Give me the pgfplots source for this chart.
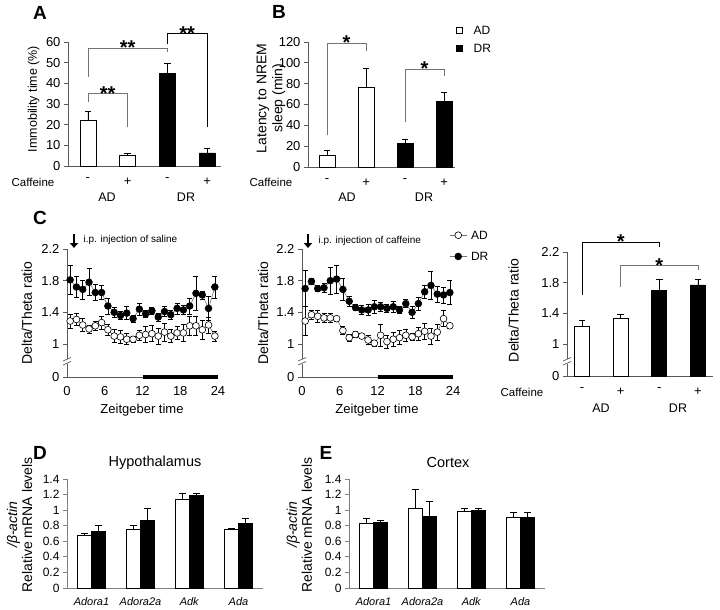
\documentclass[border=0pt]{standalone}
\usepackage{fontspec}
\setmainfont{Liberation Sans}
\usepackage{pgfplots}
\usepackage{pgfplotstable}
\pgfplotsset{compat=1.18}
\usetikzlibrary{arrows.meta}

\newcommand{\fs}[1]{\fontsize{#1}{#1}\selectfont}
\newcommand{\stars}[1]{\fontsize{20}{20}\selectfont\bfseries #1}
\tikzset{brk/.style={black!65, line width=0.7pt}}

% Delta/Theta ratio over zeitgeber time, saline day
\pgfplotstableread{
x y e
0.5 1.81 0.18
1.5 1.72 0.13
2.5 1.69 0.12
3.5 1.78 0.17
4.5 1.65 0.10
5.5 1.65 0.09
6.5 1.48 0.10
7.5 1.40 0.06
8.5 1.36 0.05
9.5 1.39 0.08
10.5 1.32 0.04
11.5 1.44 0.08
12.5 1.38 0.04
13.5 1.42 0.04
14.5 1.34 0.05
15.5 1.41 0.06
16.5 1.37 0.06
17.5 1.45 0.07
18.5 1.43 0.06
19.5 1.48 0.10
20.5 1.64 0.22
21.5 1.62 0.05
22.5 1.45 0.15
23.5 1.72 0.14
}\salDR
\pgfplotstableread{
x y e
0.5 1.29 0.09
1.5 1.31 0.08
2.5 1.24 0.08
3.5 1.19 0.05
4.5 1.23 0.06
5.5 1.27 0.08
6.5 1.18 0.07
7.5 1.10 0.08
8.5 1.09 0.08
9.5 1.06 0.07
10.5 1.06 0.04
11.5 1.11 0.06
12.5 1.12 0.10
13.5 1.13 0.10
14.5 1.10 0.10
15.5 1.15 0.11
16.5 1.10 0.08
17.5 1.14 0.08
18.5 1.14 0.11
19.5 1.23 0.12
20.5 1.23 0.12
21.5 1.18 0.12
22.5 1.24 0.10
23.5 1.10 0.06
}\salAD
% caffeine day
\pgfplotstableread{
x y e
0.5 1.70 0.23
1.5 1.79 0.04
2.5 1.70 0.04
3.5 1.71 0.06
4.5 1.80 0.17
5.5 1.82 0.18
6.5 1.69 0.14
7.5 1.54 0.06
8.5 1.46 0.04
9.5 1.43 0.06
10.5 1.43 0.07
11.5 1.47 0.08
12.5 1.47 0.06
13.5 1.45 0.05
14.5 1.47 0.07
15.5 1.43 0.04
16.5 1.51 0.05
17.5 1.40 0.08
18.5 1.51 0.08
19.5 1.66 0.08
20.5 1.74 0.18
21.5 1.63 0.10
22.5 1.62 0.10
23.5 1.65 0.15
}\cafDR
\pgfplotstableread{
x y e
0.5 1.29 0.18
1.5 1.37 0.06
2.5 1.35 0.08
3.5 1.33 0.06
4.5 1.33 0.06
5.5 1.32 0.03
6.5 1.17 0.05
7.5 1.08 0.04
8.5 1.12 0.04
9.5 1.10 0.03
10.5 1.05 0.06
11.5 1.01 0.04
12.5 1.11 0.14
13.5 1.03 0.08
14.5 1.06 0.09
15.5 1.08 0.09
16.5 1.11 0.08
17.5 1.09 0.04
18.5 1.13 0.08
19.5 1.16 0.10
20.5 1.10 0.10
21.5 1.15 0.10
22.5 1.32 0.10
23.5 1.23 0.03
}\cafAD

\pgfplotsset{
  panel/.style={
    scale only axis,
    axis lines=left,
    axis line style={black!65, line width=0.8pt, -},
    tick style={black!65, line width=0.8pt},
    tick align=outside,
    major tick length=4pt,
    /pgf/number format/assume math mode=true,
    tick label style={font=\fs{13}},
    ylabel style={font=\fontsize{14}{16}\selectfont, align=center, anchor=center},
    clip=false,
  },
  barpanel/.style={panel,
    ybar,
    xtick={0,1,2,3}, xticklabels={-,+,-,+},
    x tick style={draw=none},
    xticklabel style={yshift=-4pt, font=\fs{13}},
  },
  errs/.style={
    /pgfplots/error bars/y dir=plus,
    /pgfplots/error bars/y explicit,
    /pgfplots/error bars/error bar style={black, line width=0.6pt},
    /pgfplots/error bars/error mark options={rotate=90, mark size=3.3pt, black, line width=0.6pt}},
  errs2/.style={
    /pgfplots/error bars/y dir=both,
    /pgfplots/error bars/y explicit,
    /pgfplots/error bars/error bar style={black, line width=0.6pt},
    /pgfplots/error bars/error mark options={rotate=90, mark size=2.5pt, black, line width=0.6pt}},
  wbar/.style={fill=white, draw=black, line width=0.7pt, errs},
  bbar/.style={fill=black, draw=black, line width=0.7pt, errs},
  timepanel/.style={panel,
    width=151pt, height=128pt,
    xmin=0, xmax=24, ymin=0.583, ymax=2.2,
    xtick={0,6,12,18,24}, x tick style={draw=none},
    xticklabel style={yshift=-2pt},
    ytick={0.583,1,1.4,1.8,2.2}, yticklabels={0,1,1.4,1.8,2.2},
    ylabel={Delta/Theta ratio},
  },
  ddr/.style={draw=black!55, line width=0.6pt, mark=*, mark size=3.4pt,
    mark options={draw=black, fill=black, line width=0.6pt}, errs2},
  dad/.style={draw=black!55, line width=0.6pt, mark=*, mark size=3.4pt,
    mark options={draw=black, fill=white, line width=0.6pt}, errs2},
  genepanel/.style={panel,
    width=196pt, height=109pt,
    axis line style={black!50}, tick style={black!50},
    ybar, bar width=14pt,
    xmin=-0.5, xmax=3.5, ymin=0, ymax=1.4,
    ytick={0,0.2,0.4,0.6,0.8,1,1.2,1.4},
    xtick={0,1,2,3},
    xticklabels={\textit{Adora1},\textit{Adora2a},\textit{Adk},\textit{Ada}},
    major x tick style={draw=none},
    extra x ticks={0.5,1.5,2.5,3.5}, extra x tick labels={},
    extra x tick style={tick style={draw=black!50}},
    xticklabel style={yshift=-2pt, font=\fs{11}},
    yticklabel style={font=\fs{12}},
    ylabel style={font=\fontsize{14}{15}\selectfont},
    ylabel={\textit{/β-actin}\\Relative mRNA levels},
  },
}

\begin{document}
\begin{tikzpicture}
\useasboundingbox (0pt,0pt) rectangle (720pt,-610pt);

% ---------- A ----------
\begin{axis}[barpanel, at={(68pt,-166pt)}, anchor=south west,
  width=153pt, height=124pt, bar width=16pt,
  xmin=-0.5, xmax=3.35, ymin=0, ymax=60, ytick={0,10,...,60},
  ylabel={Immobility time (\%)},
  ylabel style={font=\fs{12.5}, at={(axis description cs:-0.225,0.54)}}]
\addplot[bar shift=0pt, wbar] table[x=x,y=y,y error=e] {
x y e
0 22 4.5
1 5 1.2
};
\addplot[bar shift=0pt, bbar] table[x=x,y=y,y error=e] {
x y e
2 45 4.5
3 6.3 2.5
};
\draw[black!55, line width=0.7pt] (axis cs:0,31) -- (axis cs:0,35) -- (axis cs:1,35) -- (axis cs:1,19);
\node[anchor=south, yshift=-10pt] at (axis cs:0.5,35) {\stars{**}};
\draw[black!55, line width=0.7pt] (axis cs:0,43) -- (axis cs:0,57) -- (axis cs:2,57) -- (axis cs:2,55);
\node[anchor=south, yshift=-10pt] at (axis cs:1,57) {\stars{**}};
\draw[black, line width=0.7pt] (axis cs:2,59) -- (axis cs:2,64) -- (axis cs:3,64) -- (axis cs:3,19);
\node[anchor=south, yshift=-10pt] at (axis cs:2.5,64) {\stars{**}};
\end{axis}

% ---------- B ----------
\begin{axis}[barpanel, at={(308pt,-167pt)}, anchor=south west,
  width=147pt, height=125pt, bar width=16pt,
  xmin=-0.49, xmax=3.28, ymin=0, ymax=120, ytick={0,20,...,120},
  ylabel={Latency to NREM\\sleep (min)},
  ylabel style={at={(axis description cs:-0.252,0.55)}},
  legend style={at={(axis description cs:0.985,1.155)}, anchor=north west,
    draw=none, fill=none, font=\fs{12}, row sep=8pt,
    nodes={inner sep=1pt, text depth=0pt}},
  legend image code/.code={\draw[#1, line width=0.6pt] (0pt,-3pt) rectangle (6pt,3pt);},
  legend cell align=left]
\addplot[bar shift=0pt, wbar] table[x=x,y=y,y error=e] {
x y e
0 11 5.5
1 76 19
};
\addplot[bar shift=0pt, bbar] table[x=x,y=y,y error=e] {
x y e
2 22.5 4.5
3 63 9
};
\legend{\hspace{10pt}AD, \hspace{10pt}DR}
\draw[black!55, line width=0.7pt] (axis cs:0,31) -- (axis cs:0,119) -- (axis cs:1,119) -- (axis cs:1,111);
\node[anchor=south, yshift=-10pt] at (axis cs:0.5,119) {\stars{*}};
\draw[black!55, line width=0.7pt] (axis cs:2,43) -- (axis cs:2,94) -- (axis cs:3,94) -- (axis cs:3,87);
\node[anchor=south, yshift=-10pt] at (axis cs:2.5,94) {\stars{*}};
\end{axis}

% ---------- C, saline ----------
\begin{axis}[timepanel, at={(67pt,-377pt)}, anchor=south west,
  ylabel style={at={(axis description cs:-0.265,0.5)}}]
\addplot[ddr] table[x=x,y=y,y error=e] {\salDR};
\addplot[dad] table[x=x,y=y,y error=e] {\salAD};
\draw[line width=4.5pt] (axis cs:12,0.583) -- (axis cs:24,0.583);
\end{axis}

% ---------- C, caffeine ----------
\begin{axis}[timepanel, at={(302pt,-377pt)}, anchor=south west,
  ylabel style={at={(axis description cs:-0.258,0.5)}},
  legend style={at={(axis description cs:0.955,1.165)}, anchor=north west,
    draw=none, fill=none, font=\fs{12}, row sep=11pt,
    nodes={inner sep=1pt, text depth=0pt}},
  legend cell align=left, reverse legend]
\addplot[ddr] table[x=x,y=y,y error=e] {\cafDR};
\addplot[dad] table[x=x,y=y,y error=e] {\cafAD};
\legend{\hspace{3pt}DR, \hspace{3pt}AD}
\draw[line width=4.5pt] (axis cs:12,0.583) -- (axis cs:24,0.583);
\end{axis}

% ---------- C, means ----------
\begin{axis}[barpanel, at={(567pt,-376pt)}, anchor=south west,
  width=146pt, height=124pt, bar width=15pt,
  xmin=-0.39, xmax=3.39, ymin=0.583, ymax=2.2,
  ytick={0.583,1,1.4,1.8,2.2}, yticklabels={0,1,1.4,1.8,2.2},
  ylabel={Delta/Theta ratio},
  ylabel style={at={(axis description cs:-0.365,0.53)}}]
\addplot[bar shift=0pt, wbar] table[x=x,y=y,y error=e] {
x y e
0 1.23 0.08
1 1.33 0.06
};
\addplot[bar shift=0pt, bbar] table[x=x,y=y,y error=e] {
x y e
2 1.70 0.14
3 1.77 0.08
};
\draw[black, line width=0.7pt] (axis cs:0,1.64) -- (axis cs:0,2.33) -- (axis cs:2,2.33) -- (axis cs:2,2.27);
\node[anchor=south, yshift=-10pt] at (axis cs:1,2.33) {\stars{*}};
\draw[black!55, line width=0.7pt] (axis cs:1,1.74) -- (axis cs:1,2.02) -- (axis cs:3,2.02) -- (axis cs:3,1.97);
\node[anchor=south, yshift=-10pt] at (axis cs:2,2.02) {\stars{*}};
\end{axis}

% ---------- D ----------
\begin{axis}[genepanel, at={(67pt,-588pt)}, anchor=south west,
  ylabel style={at={(axis description cs:-0.242,0.58)}}]
\addplot[bar shift=-7pt, wbar] table[x=x,y=y,y error=e] {
x y e
0 0.68 0.02
1 0.75 0.05
2 1.14 0.07
3 0.755 0.01
};
\addplot[bar shift=7pt, bbar] table[x=x,y=y,y error=e] {
x y e
0 0.73 0.07
1 0.87 0.15
2 1.19 0.02
3 0.83 0.06
};
\end{axis}

% ---------- E ----------
\begin{axis}[genepanel, at={(349pt,-588pt)}, anchor=south west,
  ylabel style={at={(axis description cs:-0.253,0.58)}}]
\addplot[bar shift=-7pt, wbar] table[x=x,y=y,y error=e] {
x y e
0 0.83 0.07
1 1.02 0.25
2 0.99 0.04
3 0.91 0.06
};
\addplot[bar shift=7pt, bbar] table[x=x,y=y,y error=e] {
x y e
0 0.84 0.03
1 0.92 0.20
2 1.00 0.03
3 0.905 0.07
};
\end{axis}

% ---------- texts and marks in pixel units ----------
\begin{scope}[x=1pt, y=-1pt]
\node[font=\bfseries\fs{19}] at (40,13) {A};
\node[font=\bfseries\fs{19}] at (279,12) {B};
\node[font=\bfseries\fs{19}] at (40,218) {C};
\node[font=\bfseries\fs{19}] at (40,453) {D};
\node[font=\bfseries\fs{19}] at (326,453) {E};

\node[font=\fs{11.5}] at (33,182) {Caffeine};
\node[font=\fs{12.5}] at (107,197) {AD};
\node[font=\fs{12.5}] at (186,197) {DR};
\node[font=\fs{11.5}] at (271,182) {Caffeine};
\node[font=\fs{12.5}] at (347,197) {AD};
\node[font=\fs{12.5}] at (424,197) {DR};
\node[font=\fs{11.5}] at (522,392) {Caffeine};
\node[font=\fs{12.5}] at (601,408) {AD};
\node[font=\fs{12.5}] at (678,408) {DR};

\node[font=\fs{13}] at (142,410) {Zeitgeber time};
\node[font=\fs{13}] at (377,410) {Zeitgeber time};

\node[font=\fs{14.5}] at (155,463) {Hypothalamus};
\node[font=\fs{14.5}] at (448,463) {Cortex};

\draw[line width=2.6pt, -{Triangle[width=8pt,length=5pt]}] (74,234) -- (74,248);
\node[font=\fs{10}, anchor=west] at (80,240) {i.p. injection of saline};
\draw[line width=2.6pt, -{Triangle[width=8pt,length=5pt]}] (308,234) -- (308,248);
\node[font=\fs{10}, anchor=west] at (315,241) {i.p. injection of caffeine};

% axis breaks
\foreach \bx in {67,302,567} {
  \fill[white] (\bx-3,359) rectangle (\bx+3,364);
  \draw[brk] (\bx-4,361) -- (\bx+4,357.5);
  \draw[brk] (\bx-4,365) -- (\bx+4,361.5);
}
\end{scope}
\end{tikzpicture}
\end{document}
